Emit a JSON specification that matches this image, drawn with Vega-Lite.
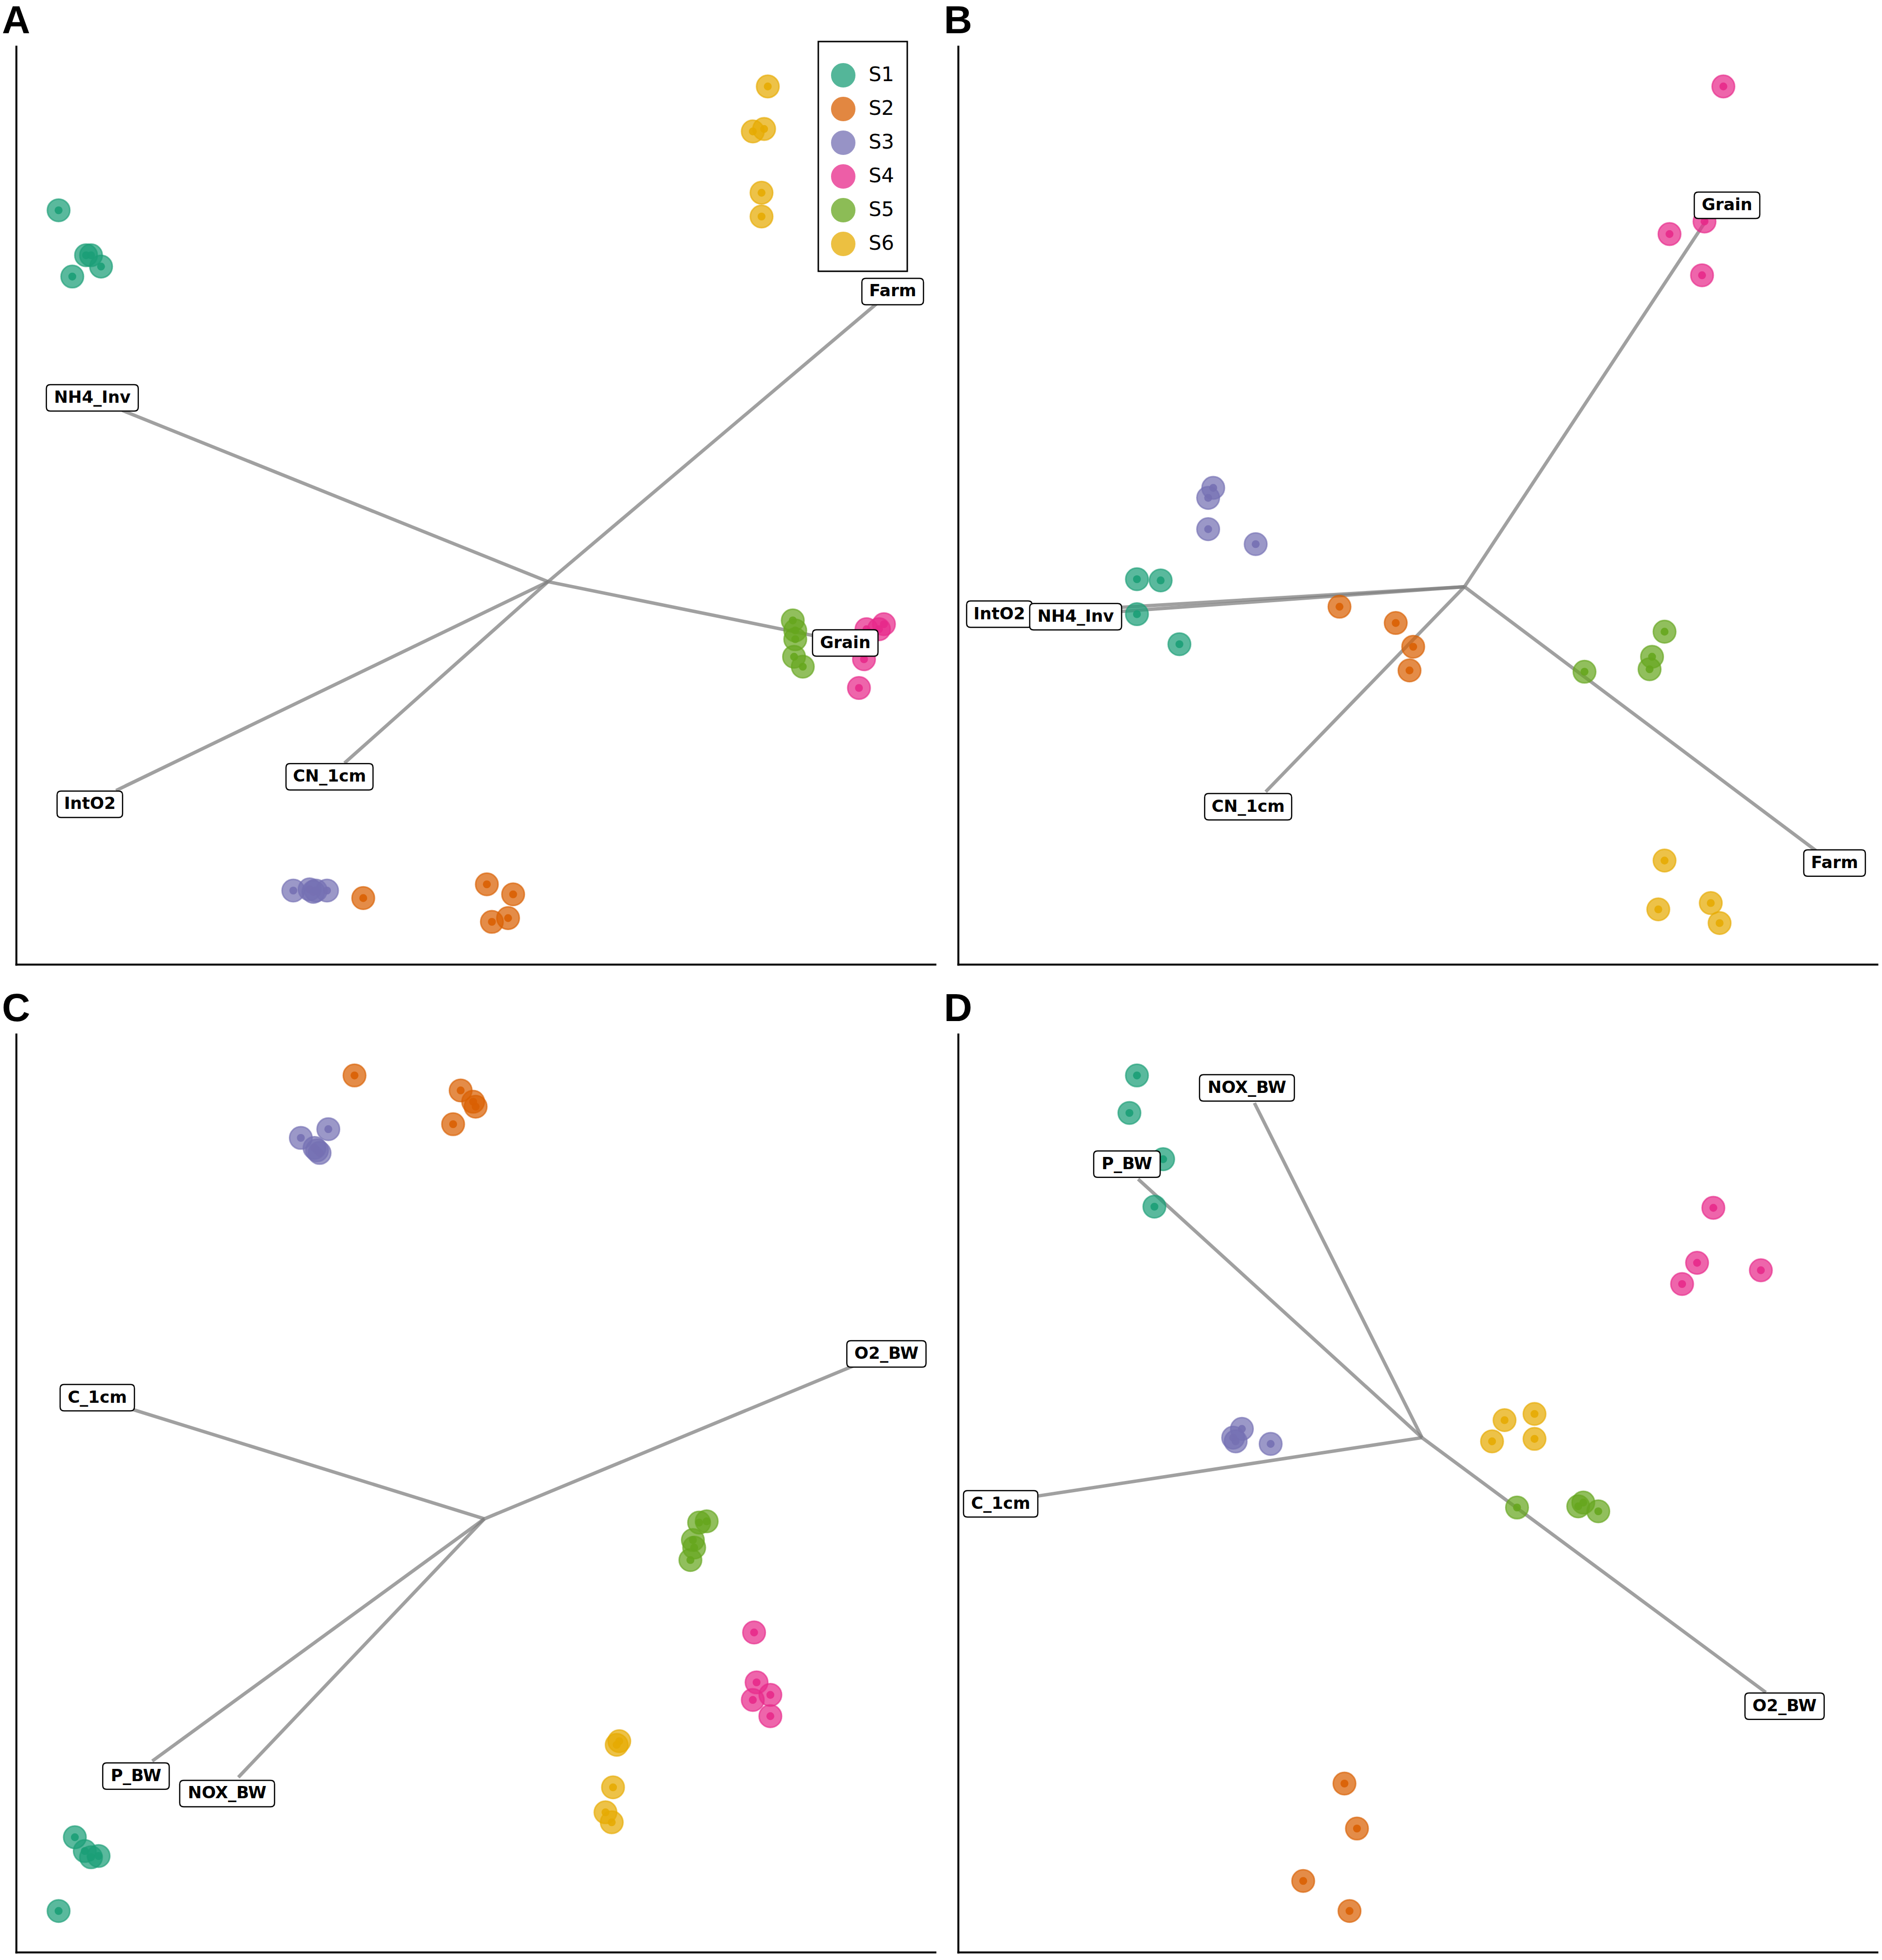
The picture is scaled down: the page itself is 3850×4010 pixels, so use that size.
{
  "$schema": "https://vega.github.io/schema/vega-lite/v6.json",
  "background": "white",
  "padding": {"left": 4, "top": 4, "right": 5, "bottom": 5},
  "data": {"values": [
    {"panel":"A","kind":"site","site":"S1","x":4.62,"y":82.15},
    {"panel":"A","kind":"site","site":"S1","x":6.11,"y":74.93},
    {"panel":"A","kind":"site","site":"S1","x":7.61,"y":77.25},
    {"panel":"A","kind":"site","site":"S1","x":8.15,"y":77.25},
    {"panel":"A","kind":"site","site":"S1","x":9.24,"y":76.02},
    {"panel":"A","kind":"site","site":"S2","x":37.77,"y":7.22},
    {"panel":"A","kind":"site","site":"S2","x":51.22,"y":8.72},
    {"panel":"A","kind":"site","site":"S2","x":54.08,"y":7.63},
    {"panel":"A","kind":"site","site":"S2","x":51.77,"y":4.63},
    {"panel":"A","kind":"site","site":"S2","x":53.53,"y":5.04},
    {"panel":"A","kind":"site","site":"S3","x":30.16,"y":8.04},
    {"panel":"A","kind":"site","site":"S3","x":31.93,"y":8.17},
    {"panel":"A","kind":"site","site":"S3","x":32.34,"y":7.9},
    {"panel":"A","kind":"site","site":"S3","x":32.61,"y":8.04},
    {"panel":"A","kind":"site","site":"S3","x":33.83,"y":8.04},
    {"panel":"A","kind":"site","site":"S4","x":94.43,"y":37.06},
    {"panel":"A","kind":"site","site":"S4","x":92.53,"y":36.51},
    {"panel":"A","kind":"site","site":"S4","x":93.89,"y":36.51},
    {"panel":"A","kind":"site","site":"S4","x":92.26,"y":33.24},
    {"panel":"A","kind":"site","site":"S4","x":91.71,"y":30.11},
    {"panel":"A","kind":"site","site":"S5","x":84.51,"y":37.47},
    {"panel":"A","kind":"site","site":"S5","x":84.78,"y":36.38},
    {"panel":"A","kind":"site","site":"S5","x":84.78,"y":35.42},
    {"panel":"A","kind":"site","site":"S5","x":84.65,"y":33.51},
    {"panel":"A","kind":"site","site":"S5","x":85.6,"y":32.43},
    {"panel":"A","kind":"site","site":"S6","x":81.79,"y":95.64},
    {"panel":"A","kind":"site","site":"S6","x":81.39,"y":91.01},
    {"panel":"A","kind":"site","site":"S6","x":80.16,"y":90.74},
    {"panel":"A","kind":"site","site":"S6","x":81.11,"y":84.06},
    {"panel":"A","kind":"site","site":"S6","x":81.11,"y":81.47},
    {"panel":"B","kind":"site","site":"S1","x":19.46,"y":41.96},
    {"panel":"B","kind":"site","site":"S1","x":22.04,"y":41.83},
    {"panel":"B","kind":"site","site":"S1","x":19.46,"y":38.15},
    {"panel":"B","kind":"site","site":"S1","x":24.08,"y":34.88},
    {"panel":"B","kind":"site","site":"S2","x":41.5,"y":38.96},
    {"panel":"B","kind":"site","site":"S2","x":47.62,"y":37.19},
    {"panel":"B","kind":"site","site":"S2","x":49.52,"y":34.6},
    {"panel":"B","kind":"site","site":"S2","x":49.12,"y":32.02},
    {"panel":"B","kind":"site","site":"S3","x":27.76,"y":51.91},
    {"panel":"B","kind":"site","site":"S3","x":27.21,"y":50.82},
    {"panel":"B","kind":"site","site":"S3","x":27.21,"y":47.41},
    {"panel":"B","kind":"site","site":"S3","x":32.38,"y":45.78},
    {"panel":"B","kind":"site","site":"S4","x":83.27,"y":95.64},
    {"panel":"B","kind":"site","site":"S4","x":77.41,"y":79.56},
    {"panel":"B","kind":"site","site":"S4","x":81.22,"y":80.93},
    {"panel":"B","kind":"site","site":"S4","x":80.95,"y":75.07},
    {"panel":"B","kind":"site","site":"S5","x":76.87,"y":36.24},
    {"panel":"B","kind":"site","site":"S5","x":75.51,"y":33.51},
    {"panel":"B","kind":"site","site":"S5","x":75.24,"y":32.15},
    {"panel":"B","kind":"site","site":"S5","x":68.16,"y":31.88},
    {"panel":"B","kind":"site","site":"S6","x":76.87,"y":11.31},
    {"panel":"B","kind":"site","site":"S6","x":76.19,"y":5.99},
    {"panel":"B","kind":"site","site":"S6","x":81.9,"y":6.68},
    {"panel":"B","kind":"site","site":"S6","x":82.86,"y":4.5},
    {"panel":"C","kind":"site","site":"S1","x":6.39,"y":12.52},
    {"panel":"C","kind":"site","site":"S1","x":7.47,"y":11.02},
    {"panel":"C","kind":"site","site":"S1","x":8.15,"y":10.34},
    {"panel":"C","kind":"site","site":"S1","x":8.97,"y":10.48},
    {"panel":"C","kind":"site","site":"S1","x":4.62,"y":4.49},
    {"panel":"C","kind":"site","site":"S2","x":36.82,"y":95.51},
    {"panel":"C","kind":"site","site":"S2","x":48.37,"y":93.88},
    {"panel":"C","kind":"site","site":"S2","x":49.73,"y":92.65},
    {"panel":"C","kind":"site","site":"S2","x":50.0,"y":92.11},
    {"panel":"C","kind":"site","site":"S2","x":47.55,"y":90.2},
    {"panel":"C","kind":"site","site":"S3","x":30.98,"y":88.71},
    {"panel":"C","kind":"site","site":"S3","x":33.97,"y":89.66},
    {"panel":"C","kind":"site","site":"S3","x":32.74,"y":87.35},
    {"panel":"C","kind":"site","site":"S3","x":33.02,"y":87.07},
    {"panel":"C","kind":"site","site":"S3","x":32.47,"y":87.62},
    {"panel":"C","kind":"site","site":"S4","x":80.3,"y":34.83},
    {"panel":"C","kind":"site","site":"S4","x":80.57,"y":29.39},
    {"panel":"C","kind":"site","site":"S4","x":82.07,"y":28.03},
    {"panel":"C","kind":"site","site":"S4","x":80.16,"y":27.48},
    {"panel":"C","kind":"site","site":"S4","x":82.07,"y":25.71},
    {"panel":"C","kind":"site","site":"S5","x":74.32,"y":46.8},
    {"panel":"C","kind":"site","site":"S5","x":75.14,"y":46.94},
    {"panel":"C","kind":"site","site":"S5","x":73.64,"y":44.9},
    {"panel":"C","kind":"site","site":"S5","x":73.78,"y":44.08},
    {"panel":"C","kind":"site","site":"S5","x":73.37,"y":42.72},
    {"panel":"C","kind":"site","site":"S6","x":65.63,"y":22.99},
    {"panel":"C","kind":"site","site":"S6","x":65.35,"y":22.59},
    {"panel":"C","kind":"site","site":"S6","x":64.95,"y":17.96},
    {"panel":"C","kind":"site","site":"S6","x":64.13,"y":15.24},
    {"panel":"C","kind":"site","site":"S6","x":64.81,"y":14.15},
    {"panel":"D","kind":"site","site":"S1","x":19.46,"y":95.51},
    {"panel":"D","kind":"site","site":"S1","x":18.64,"y":91.43},
    {"panel":"D","kind":"site","site":"S1","x":22.31,"y":86.39},
    {"panel":"D","kind":"site","site":"S1","x":21.36,"y":81.22},
    {"panel":"D","kind":"site","site":"S2","x":42.04,"y":18.37},
    {"panel":"D","kind":"site","site":"S2","x":43.4,"y":13.47},
    {"panel":"D","kind":"site","site":"S2","x":37.55,"y":7.76},
    {"panel":"D","kind":"site","site":"S2","x":42.59,"y":4.49},
    {"panel":"D","kind":"site","site":"S3","x":30.88,"y":57.01},
    {"panel":"D","kind":"site","site":"S3","x":29.93,"y":56.05},
    {"panel":"D","kind":"site","site":"S3","x":30.2,"y":55.65},
    {"panel":"D","kind":"site","site":"S3","x":34.01,"y":55.37},
    {"panel":"D","kind":"site","site":"S4","x":82.18,"y":81.09},
    {"panel":"D","kind":"site","site":"S4","x":80.41,"y":75.1},
    {"panel":"D","kind":"site","site":"S4","x":78.78,"y":72.79},
    {"panel":"D","kind":"site","site":"S4","x":87.35,"y":74.29},
    {"panel":"D","kind":"site","site":"S5","x":60.82,"y":48.44},
    {"panel":"D","kind":"site","site":"S5","x":67.48,"y":48.57},
    {"panel":"D","kind":"site","site":"S5","x":68.03,"y":48.98},
    {"panel":"D","kind":"site","site":"S5","x":69.66,"y":48.03},
    {"panel":"D","kind":"site","site":"S6","x":59.46,"y":57.96},
    {"panel":"D","kind":"site","site":"S6","x":62.72,"y":58.64},
    {"panel":"D","kind":"site","site":"S6","x":58.1,"y":55.65},
    {"panel":"D","kind":"site","site":"S6","x":62.72,"y":55.92},
    {"panel":"A","kind":"vector","var":"Farm","cx":57.88,"cy":41.69,"x":93.75,"y":72.07,"lx":95.38,"ly":73.3},
    {"panel":"A","kind":"vector","var":"NH4_Inv","cx":57.88,"cy":41.69,"x":11.55,"y":60.35,"lx":8.29,"ly":61.72},
    {"panel":"A","kind":"vector","var":"Grain","cx":57.88,"cy":41.69,"x":86.68,"y":35.83,"lx":90.22,"ly":35.01},
    {"panel":"A","kind":"vector","var":"IntO2","cx":57.88,"cy":41.69,"x":10.87,"y":18.94,"lx":8.02,"ly":17.44},
    {"panel":"A","kind":"vector","var":"CN_1cm","cx":57.88,"cy":41.69,"x":35.73,"y":21.93,"lx":34.1,"ly":20.44},
    {"panel":"B","kind":"vector","var":"Grain","cx":55.1,"cy":41.14,"x":81.5,"y":81.2,"lx":83.67,"ly":82.7},
    {"panel":"B","kind":"vector","var":"Farm","cx":55.1,"cy":41.14,"x":93.33,"y":12.4,"lx":95.37,"ly":11.04},
    {"panel":"B","kind":"vector","var":"CN_1cm","cx":55.1,"cy":41.14,"x":33.47,"y":18.8,"lx":31.56,"ly":17.17},
    {"panel":"B","kind":"vector","var":"IntO2","cx":55.1,"cy":41.14,"x":7.62,"y":38.28,"lx":4.49,"ly":38.15},
    {"panel":"B","kind":"vector","var":"NH4_Inv","cx":55.1,"cy":41.14,"x":17.28,"y":38.42,"lx":12.79,"ly":37.87},
    {"panel":"C","kind":"vector","var":"O2_BW","cx":50.95,"cy":47.21,"x":91.3,"y":63.95,"lx":94.7,"ly":65.17},
    {"panel":"C","kind":"vector","var":"C_1cm","cx":50.95,"cy":47.21,"x":12.5,"y":59.18,"lx":8.83,"ly":60.41},
    {"panel":"C","kind":"vector","var":"P_BW","cx":50.95,"cy":47.21,"x":14.81,"y":20.82,"lx":13.04,"ly":19.18},
    {"panel":"C","kind":"vector","var":"NOX_BW","cx":50.95,"cy":47.21,"x":24.18,"y":19.05,"lx":22.96,"ly":17.28},
    {"panel":"D","kind":"vector","var":"P_BW","cx":50.48,"cy":56.05,"x":19.59,"y":84.22,"lx":18.37,"ly":85.85},
    {"panel":"D","kind":"vector","var":"NOX_BW","cx":50.48,"cy":56.05,"x":32.24,"y":92.52,"lx":31.43,"ly":94.15},
    {"panel":"D","kind":"vector","var":"C_1cm","cx":50.48,"cy":56.05,"x":8.44,"y":49.66,"lx":4.63,"ly":48.84},
    {"panel":"D","kind":"vector","var":"O2_BW","cx":50.48,"cy":56.05,"x":87.89,"y":28.3,"lx":89.93,"ly":26.8}
  ]},
  "facet": {
    "field": "panel", "type": "nominal",
    "header": {"title": null, "labelFontSize": 80, "labelFont": "Liberation Sans", "labelFontWeight": "bold", "labelAnchor": "start", "labelAlign": "center", "labelOrient": "top", "labelPadding": 10, "labelColor": "black"}
  },
  "columns": 2,
  "spacing": {"row": 52, "column": 18},
  "resolve": {"axis": {"x": "independent", "y": "independent"}},
  "spec": {
    "width": 1880,
    "height": 1878,
    "layer": [
      {
        "transform": [{"filter": "datum.kind === 'vector'"}],
        "mark": {"type": "rule", "color": "#808080", "strokeWidth": 7, "opacity": 0.75},
        "encoding": {
          "x": {"field": "cx", "type": "quantitative", "title": null, "scale": {"domain": [0, 100], "nice": false, "zero": false}},
          "y": {"field": "cy", "type": "quantitative", "title": null, "scale": {"domain": [0, 100], "nice": false, "zero": false}},
          "x2": {"field": "x"},
          "y2": {"field": "y"}
        }
      },
      {
        "transform": [{"filter": "datum.kind === 'site'"}],
        "mark": {"type": "circle", "size": 2124, "fillOpacity": 0.72, "strokeWidth": 3, "strokeOpacity": 0.65},
        "encoding": {
          "x": {"field": "x", "type": "quantitative", "title": null, "scale": {"domain": [0, 100], "nice": false, "zero": false}},
          "y": {"field": "y", "type": "quantitative", "title": null, "scale": {"domain": [0, 100], "nice": false, "zero": false}},
          "color": {"field": "site", "type": "nominal",
            "scale": {"domain": ["S1","S2","S3","S4","S5","S6"], "range": ["#1b9e77","#d95f02","#7570b3","#e7298a","#66a61e","#e6ab02"]},
            "legend": {"orient": "none", "legendX": 1641, "legendY": -10, "title": " "}},
          "stroke": {"field": "site", "type": "nominal",
            "scale": {"domain": ["S1","S2","S3","S4","S5","S6"], "range": ["#1b9e77","#d95f02","#7570b3","#e7298a","#66a61e","#e6ab02"]},
            "legend": null}
        }
      },
      {
        "transform": [{"filter": "datum.kind === 'site'"}],
        "mark": {"type": "circle", "size": 260, "opacity": 0.9},
        "encoding": {
          "x": {"field": "x", "type": "quantitative", "title": null},
          "y": {"field": "y", "type": "quantitative", "title": null},
          "color": {"field": "site", "type": "nominal"}
        }
      },
      {
        "transform": [{"filter": "datum.kind === 'vector'"}],
        "mark": {"type": "point", "filled": true, "fill": "white", "stroke": "black", "strokeWidth": 2.5, "opacity": 1, "size": 4},
        "encoding": {
          "x": {"field": "lx", "type": "quantitative", "title": null},
          "y": {"field": "ly", "type": "quantitative", "title": null},
          "shape": {"field": "var", "type": "nominal", "legend": null,
            "scale": {
              "domain": ["Farm","NH4_Inv","Grain","IntO2","CN_1cm","O2_BW","C_1cm","P_BW","NOX_BW"],
              "range": [
                "M-55,-27H55Q63,-27 63,-19V19Q63,27 55,27H-55Q-63,27 -63,19V-19Q-63,-27 -55,-27Z",
                "M-86,-27H86Q94,-27 94,-19V19Q94,27 86,27H-86Q-94,27 -94,19V-19Q-94,-27 -86,-27Z",
                "M-59,-27H59Q67,-27 67,-19V19Q67,27 59,27H-59Q-67,27 -67,19V-19Q-67,-27 -59,-27Z",
                "M-59,-27H59Q67,-27 67,-19V19Q67,27 59,27H-59Q-67,27 -67,19V-19Q-67,-27 -59,-27Z",
                "M-81,-27H81Q89,-27 89,-19V19Q89,27 81,27H-81Q-89,27 -89,19V-19Q-89,-27 -81,-27Z",
                "M-73,-27H73Q81,-27 81,-19V19Q81,27 73,27H-73Q-81,27 -81,19V-19Q-81,-27 -73,-27Z",
                "M-68,-27H68Q76,-27 76,-19V19Q76,27 68,27H-68Q-76,27 -76,19V-19Q-76,-27 -68,-27Z",
                "M-60,-27H60Q68,-27 68,-19V19Q68,27 60,27H-60Q-68,27 -68,19V-19Q-68,-27 -60,-27Z",
                "M-89,-27H89Q97,-27 97,-19V19Q97,27 89,27H-89Q-97,27 -97,19V-19Q-97,-27 -89,-27Z"
              ]}}
        }
      },
      {
        "transform": [{"filter": "datum.kind === 'vector'"}],
        "mark": {"type": "text", "font": "DejaVu Sans", "fontWeight": "bold", "fontSize": 34, "align": "center", "baseline": "middle", "color": "black"},
        "encoding": {
          "x": {"field": "lx", "type": "quantitative", "title": null},
          "y": {"field": "ly", "type": "quantitative", "title": null},
          "text": {"field": "var", "type": "nominal"}
        }
      }
    ]
  },
  "config": {
    "view": {"stroke": null},
    "axis": {"domainColor": "black", "domainWidth": 4, "domainCap": "square", "ticks": false, "labels": false, "grid": false},
    "legend": {
      "strokeColor": "black", "strokeWidth": 3, "padding": 26, "fillColor": "white",
      "titleFontSize": 8, "titlePadding": 10,
      "symbolType": "circle", "symbolSize": 2206, "symbolStrokeWidth": 3, "symbolOpacity": 0.75,
      "labelFont": "DejaVu Sans", "labelFontSize": 41, "labelColor": "black", "labelOffset": 27, "rowPadding": 9
    }
  }
}
